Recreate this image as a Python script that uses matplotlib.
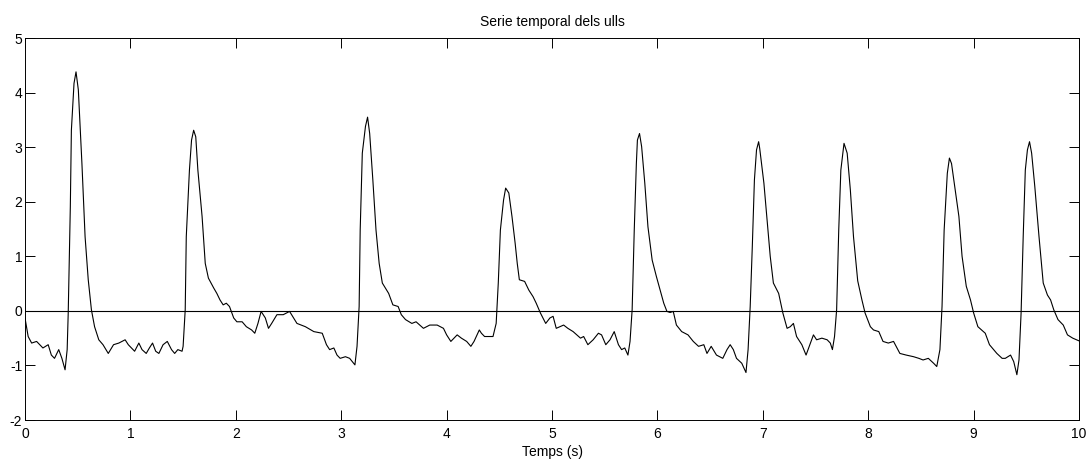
import matplotlib
matplotlib.use('Agg')
import matplotlib.pyplot as plt

plt.rcParams['font.family'] = ['Liberation Sans', 'DejaVu Sans']
plt.rcParams['axes.unicode_minus'] = False

# signal (time in s, amplitude)
temps = [0.00, 0.03, 0.063, 0.11, 0.14, 0.17, 0.22, 0.25, 0.28, 0.32, 0.35, 0.38, 0.40, 0.41, 0.43, 0.44,
         0.465, 0.484, 0.506, 0.54, 0.57, 0.60, 0.63, 0.66, 0.70, 0.74, 0.79, 0.84, 0.89, 0.92, 0.95,
         0.98, 1.01, 1.04, 1.08, 1.11, 1.15, 1.18, 1.21, 1.24, 1.27, 1.31, 1.35, 1.39, 1.42, 1.45, 1.49,
         1.50, 1.52, 1.53, 1.56, 1.58, 1.60, 1.62, 1.64, 1.68, 1.71, 1.74, 1.79, 1.82, 1.85, 1.88, 1.91,
         1.94, 1.98, 2.01, 2.06, 2.10, 2.15, 2.18, 2.21, 2.24, 2.28, 2.31, 2.34, 2.39, 2.45, 2.48, 2.51,
         2.58, 2.66, 2.74, 2.82, 2.86, 2.89, 2.93, 2.96, 2.99, 3.04, 3.08, 3.13, 3.15, 3.17, 3.18, 3.20,
         3.23, 3.25, 3.27, 3.30, 3.33, 3.36, 3.39, 3.45, 3.49, 3.54, 3.57, 3.61, 3.67, 3.71, 3.78, 3.84,
         3.91, 3.97, 4.00, 4.04, 4.10, 4.14, 4.19, 4.23, 4.26, 4.31, 4.33, 4.36, 4.41, 4.44, 4.47, 4.49,
         4.51, 4.54, 4.56, 4.59, 4.62, 4.65, 4.67, 4.69, 4.74, 4.78, 4.82, 4.85, 4.89, 4.94, 4.98, 5.01,
         5.04, 5.11, 5.15, 5.20, 5.27, 5.30, 5.34, 5.39, 5.44, 5.47, 5.51, 5.55, 5.59, 5.63, 5.66, 5.69,
         5.72, 5.74, 5.76, 5.78, 5.80, 5.81, 5.83, 5.85, 5.88, 5.91, 5.95, 5.99, 6.02, 6.06, 6.09, 6.12,
         6.15, 6.18, 6.23, 6.29, 6.34, 6.39, 6.44, 6.47, 6.51, 6.56, 6.62, 6.66, 6.69, 6.72, 6.75, 6.80,
         6.84, 6.86, 6.88, 6.90, 6.92, 6.94, 6.96, 6.97, 7.01, 7.04, 7.07, 7.10, 7.15, 7.17, 7.19, 7.23,
         7.26, 7.29, 7.32, 7.37, 7.41, 7.44, 7.48, 7.51, 7.56, 7.61, 7.64, 7.66, 7.68, 7.70, 7.72, 7.74,
         7.77, 7.80, 7.83, 7.86, 7.90, 7.94, 7.97, 8.02, 8.05, 8.10, 8.14, 8.19, 8.24, 8.30, 8.36, 8.43,
         8.48, 8.52, 8.57, 8.62, 8.65, 8.68, 8.70, 8.72, 8.75, 8.77, 8.79, 8.82, 8.86, 8.89, 8.93, 8.97,
         9.00, 9.04, 9.11, 9.15, 9.22, 9.27, 9.30, 9.35, 9.38, 9.41, 9.43, 9.45, 9.47, 9.49, 9.51, 9.53,
         9.55, 9.58, 9.62, 9.66, 9.70, 9.73, 9.76, 9.80, 9.85, 9.89, 9.94, 10.00]
senyal = [-0.13, -0.47, -0.59, -0.56, -0.62, -0.68, -0.62, -0.81, -0.87, -0.71, -0.87, -1.08, -0.71, -0.04, 1.91, 3.31,
          4.17, 4.38, 4.05, 2.70, 1.36, 0.57, 0.02, -0.29, -0.53, -0.62, -0.78, -0.62, -0.59, -0.56, -0.53,
          -0.62, -0.68, -0.74, -0.59, -0.71, -0.78, -0.68, -0.59, -0.74, -0.78, -0.62, -0.56, -0.71, -0.78, -0.71, -0.74,
          -0.65, 0.02, 1.36, 2.58, 3.13, 3.31, 3.19, 2.58, 1.73, 0.87, 0.60, 0.42, 0.32, 0.20, 0.11, 0.14,
          0.08, -0.13, -0.20, -0.20, -0.29, -0.35, -0.41, -0.23, -0.01, -0.13, -0.32, -0.23, -0.07, -0.07, -0.04, -0.01,
          -0.23, -0.29, -0.38, -0.41, -0.62, -0.71, -0.68, -0.81, -0.87, -0.84, -0.87, -0.99, -0.65, 0.08, 1.48, 2.89,
          3.38, 3.55, 3.25, 2.40, 1.48, 0.87, 0.51, 0.32, 0.11, 0.08, -0.07, -0.16, -0.23, -0.20, -0.32, -0.26,
          -0.26, -0.32, -0.44, -0.56, -0.44, -0.50, -0.56, -0.65, -0.56, -0.35, -0.41, -0.47, -0.47, -0.47, -0.23, 0.51,
          1.48, 2.03, 2.25, 2.16, 1.73, 1.24, 0.87, 0.57, 0.54, 0.38, 0.26, 0.14, -0.04, -0.23, -0.13, -0.10,
          -0.32, -0.26, -0.32, -0.38, -0.50, -0.47, -0.62, -0.53, -0.41, -0.44, -0.62, -0.53, -0.38, -0.62, -0.71, -0.68,
          -0.81, -0.56, 0.02, 1.48, 2.70, 3.13, 3.25, 3.01, 2.34, 1.54, 0.93, 0.63, 0.42, 0.14, -0.01, -0.03,
          -0.01, -0.26, -0.38, -0.44, -0.56, -0.65, -0.62, -0.78, -0.65, -0.81, -0.87, -0.71, -0.62, -0.71, -0.87, -0.96,
          -1.13, -0.71, 0.08, 1.18, 2.40, 2.95, 3.10, 2.98, 2.34, 1.67, 1.00, 0.51, 0.32, 0.14, -0.04, -0.32,
          -0.29, -0.23, -0.47, -0.62, -0.81, -0.65, -0.44, -0.53, -0.50, -0.53, -0.59, -0.71, -0.47, 0.02, 1.48, 2.58,
          3.07, 2.89, 2.22, 1.36, 0.55, 0.20, -0.04, -0.29, -0.35, -0.38, -0.56, -0.59, -0.56, -0.78, -0.81, -0.84,
          -0.87, -0.90, -0.87, -0.96, -1.02, -0.71, 0.08, 1.48, 2.52, 2.80, 2.70, 2.28, 1.73, 1.00, 0.45, 0.20,
          -0.04, -0.29, -0.41, -0.62, -0.78, -0.87, -0.87, -0.81, -0.93, -1.17, -0.90, -0.04, 1.36, 2.58, 2.95, 3.10,
          2.89, 2.28, 1.36, 0.51, 0.29, 0.20, 0.02, -0.16, -0.26, -0.44, -0.50, -0.55]

xticks = list(range(0, 11))
yticks = list(range(-2, 6))

fig = plt.figure(figsize=(10.87, 4.62), dpi=100, facecolor='white')
ax = fig.add_axes([0.023, 0.0909, 0.9697, 0.8268])

ax.plot(temps, senyal, color='black', lw=0.8)
ax.axhline(0, color='black', lw=0.8)

ax.set_xlim(0, 10)
ax.set_ylim(-2, 5)
ax.set_xticks(xticks)
ax.set_yticks(yticks)
ax.tick_params(direction='in', length=7.5, width=0.7, top=True, right=True,
               labelsize=10, pad=2)
ax.tick_params(axis='x', pad=5)
for s in ax.spines.values():
    s.set_linewidth(0.7)

ax.set_title('Serie temporal dels ulls', fontsize=10, pad=9)
ax.set_xlabel('Temps (s)', fontsize=10, labelpad=3)

fig.savefig('out.png', dpi=100, facecolor='white')
